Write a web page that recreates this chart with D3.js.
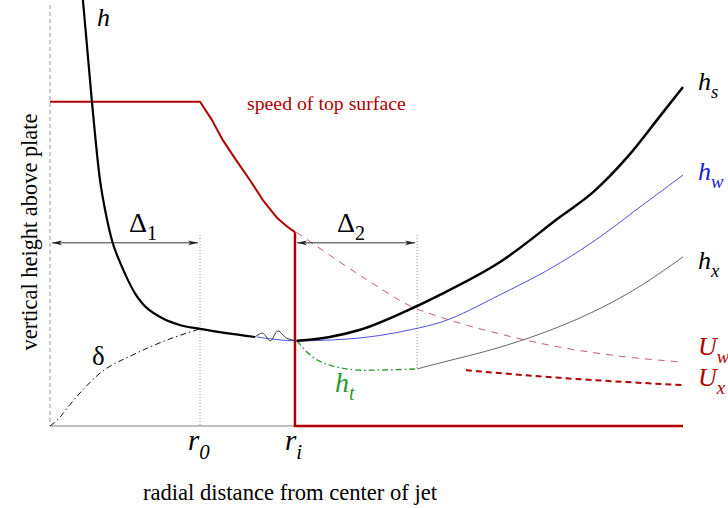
<!DOCTYPE html>
<html lang="en">
<head>
    <meta charset="UTF-8">
    <title>Jet impingement sketch</title>
    <script src="https://cdnjs.cloudflare.com/ajax/libs/d3/7.8.5/d3.min.js"></script>
    <style>
        body, html {
            margin: 0;
            padding: 0;
            background: #fff;
            overflow: hidden;
        }
    </style>
</head>
<body>
    <div id="chart"></div>

    <script>
        // schematic values in arbitrary units: r from 0 to 100, height from 0 to 100
        const r0 = 23.7;
        const ri = 38.7;
        const rDelta2 = 58.0;

        const hCore = [[5.2, 100], [6.6, 76.5], [7.9, 57.7], [8.8, 50.0], [9.9, 43.0], [11.1, 38.3],
            [12.3, 34.3], [13.4, 31.2], [14.7, 28.6], [17.4, 25.6], [20.5, 23.7], [23.7, 22.8], [32.4, 20.9]];
        const hWiggle = [[32.4, 20.9], [33.6, 21.8], [34.8, 20.0], [36.0, 22.3], [37.4, 20.6], [39.0, 20.0]];
        const hS = [[39.0, 20.0], [44.2, 20.9], [49.0, 22.6], [57.3, 27.7], [61.6, 30.8], [71.1, 38.5],
            [80.6, 49.1], [85.8, 54.9], [91.2, 63.1], [96.4, 72.8], [100, 79.6]];
        const hW = [[32.7, 20.9], [39.0, 20.0], [46.9, 20.4], [57.3, 22.7], [61.6, 24.3], [71.1, 30.8],
            [80.6, 38.3], [86.9, 44.4], [93.2, 51.4], [100, 58.9]];
        const hT = [[39.0, 20.0], [41.5, 16.2], [44.2, 14.3], [49.4, 13.1], [58.0, 13.4]];
        const hX = [[58.0, 13.4], [61.6, 14.8], [71.1, 18.5], [80.6, 23.4], [86.9, 27.6], [93.2, 32.8], [100, 39.7]];
        const delta = [[0, 0], [1.6, 2.1], [2.7, 4.2], [5.2, 8.5], [7.9, 12.4], [13.1, 16.7], [18.5, 20.2], [23.7, 22.8]];
        const speedTop = [[0, 76.1], [23.7, 76.1], [25.6, 71.8], [27.3, 67.1], [29.4, 62.4], [31.6, 57.7],
            [33.6, 53.1], [35.9, 48.8], [37.4, 46.9], [38.7, 45.5]];
        const speedJump = [[38.7, 45.5], [38.7, 0], [100, 0]];
        const uW = [[38.9, 45.5], [44.2, 40.1], [50.6, 33.8], [57.3, 27.9], [61.6, 25.6], [71.1, 21.6],
            [80.6, 18.5], [90.0, 16.4], [100, 15.0]];
        const uX = [[65.7, 13.1], [80.6, 11.3], [100, 9.6]];
        const arrowLevel = 43.0;
        const guideTop = 44.8;

        const width = 728, height = 508;
        const red = "#b00000";
        const serif = "Liberation Serif";

        const svg = d3.select("#chart").append("svg")
            .attr("width", width)
            .attr("height", height);

        const x = d3.scaleLinear().domain([0, 100]).range([50, 683]);
        const y = d3.scaleLinear().domain([0, 100]).range([426, 0]);

        const smooth = d3.line().x(d => x(d[0])).y(d => y(d[1])).curve(d3.curveMonotoneX);
        const straight = d3.line().x(d => x(d[0])).y(d => y(d[1]));

        const defs = svg.append("defs");
        defs.append("marker")
            .attr("id", "arrow")
            .attr("viewBox", "0 0 10 6")
            .attr("refX", 10).attr("refY", 3)
            .attr("markerWidth", 10).attr("markerHeight", 6)
            .attr("markerUnits", "userSpaceOnUse")
            .attr("orient", "auto-start-reverse")
            .append("path")
            .attr("d", "M0,0.6 L10,3 L0,5.4 L2.5,3 Z")
            .attr("fill", "#222");

        // axes
        svg.append("line")
            .attr("x1", x(0)).attr("x2", x(0))
            .attr("y1", 5).attr("y2", y(0))
            .attr("stroke", "#999").attr("stroke-width", 1)
            .attr("stroke-dasharray", "4,3");
        svg.append("line")
            .attr("x1", x(0)).attr("x2", x(ri))
            .attr("y1", y(0)).attr("y2", y(0))
            .attr("stroke", "#aaa").attr("stroke-width", 1.5);

        // dotted guides
        [[r0, 0], [rDelta2, hT[hT.length - 1][1]]].forEach(g => {
            svg.append("line")
                .attr("x1", x(g[0])).attr("x2", x(g[0]))
                .attr("y1", y(guideTop)).attr("y2", y(g[1]))
                .attr("stroke", "#888").attr("stroke-width", 1)
                .attr("stroke-dasharray", "1,2");
        });

        // curves
        function draw(data, gen, color, w, dash) {
            svg.append("path")
                .attr("d", gen(data))
                .attr("fill", "none")
                .attr("stroke", color)
                .attr("stroke-width", w)
                .attr("stroke-dasharray", dash || null)
                .attr("stroke-linejoin", "round");
        }

        draw(uW, smooth, "#c26070", 1, "7,6");
        draw(uX, smooth, red, 2, "6,4");
        draw(delta, smooth, "#111", 1, "6,3,1.5,3");
        draw(hT, smooth, "#2a9a2a", 1.4, "6,3,1.5,3");
        draw(hX, smooth, "#666", 1, null);
        draw(hW, smooth, "#5050e0", 1, null);
        draw(speedTop, straight, red, 2, null);
        draw(speedJump, straight, red, 2.5, null);
        draw(hWiggle, d3.line().x(d => x(d[0])).y(d => y(d[1])).curve(d3.curveCatmullRom), "#333", 1, null);
        draw(hCore, smooth, "#000", 2.2, null);
        draw(hS, smooth, "#000", 2.5, null);

        // width arrows
        [[0, r0], [ri, rDelta2]].forEach(a => {
            svg.append("line")
                .attr("x1", x(a[0]) + 2).attr("x2", x(a[1]) - 2)
                .attr("y1", y(arrowLevel)).attr("y2", y(arrowLevel))
                .attr("stroke", "#333").attr("stroke-width", 1)
                .attr("marker-start", "url(#arrow)")
                .attr("marker-end", "url(#arrow)");
        });

        // labels with subscripts
        function label(px, py, main, sub, opts) {
            const t = svg.append("text")
                .attr("x", px).attr("y", py)
                .attr("fill", opts.color || "#000")
                .attr("font-size", opts.size)
                .style("font-family", serif)
                .style("font-style", opts.italic ? "italic" : "normal");
            t.append("tspan").text(main);
            if (sub) {
                t.append("tspan")
                    .attr("font-size", opts.size * 0.72)
                    .attr("dy", opts.size * 0.3)
                    .text(sub);
            }
            return t;
        }

        label(97, 26, "h", null, {size: 26, italic: true});
        label(698, 90, "h", "s", {size: 26, italic: true});
        label(698, 180, "h", "w", {size: 26, italic: true, color: "#2020d0"});
        label(698, 269, "h", "x", {size: 26, italic: true});
        label(698, 355, "U", "w", {size: 26, italic: true, color: red});
        label(698, 386, "U", "x", {size: 26, italic: true, color: red});
        label(335, 392, "h", "t", {size: 28, italic: true, color: "#2a9a2a"});
        label(92, 365, "δ", null, {size: 27});
        label(129, 232, "Δ", "1", {size: 28});
        label(337, 232, "Δ", "2", {size: 28});
        label(x(r0) - 12, 450, "r", "0", {size: 29, italic: true});
        label(x(ri) - 10, 450, "r", "i", {size: 29, italic: true});

        svg.append("text")
            .attr("x", 247).attr("y", 110)
            .attr("fill", red)
            .attr("font-size", 19.8)
            .style("font-family", serif)
            .text("speed of top surface");

        svg.append("text")
            .attr("x", 290).attr("y", 500)
            .attr("text-anchor", "middle")
            .attr("font-size", 22.6)
            .style("font-family", serif)
            .text("radial distance from center of jet");

        svg.append("text")
            .attr("transform", "translate(37,232) rotate(-90)")
            .attr("text-anchor", "middle")
            .attr("font-size", 22.4)
            .style("font-family", serif)
            .text("vertical height above plate");
    </script>
</body>
</html>
